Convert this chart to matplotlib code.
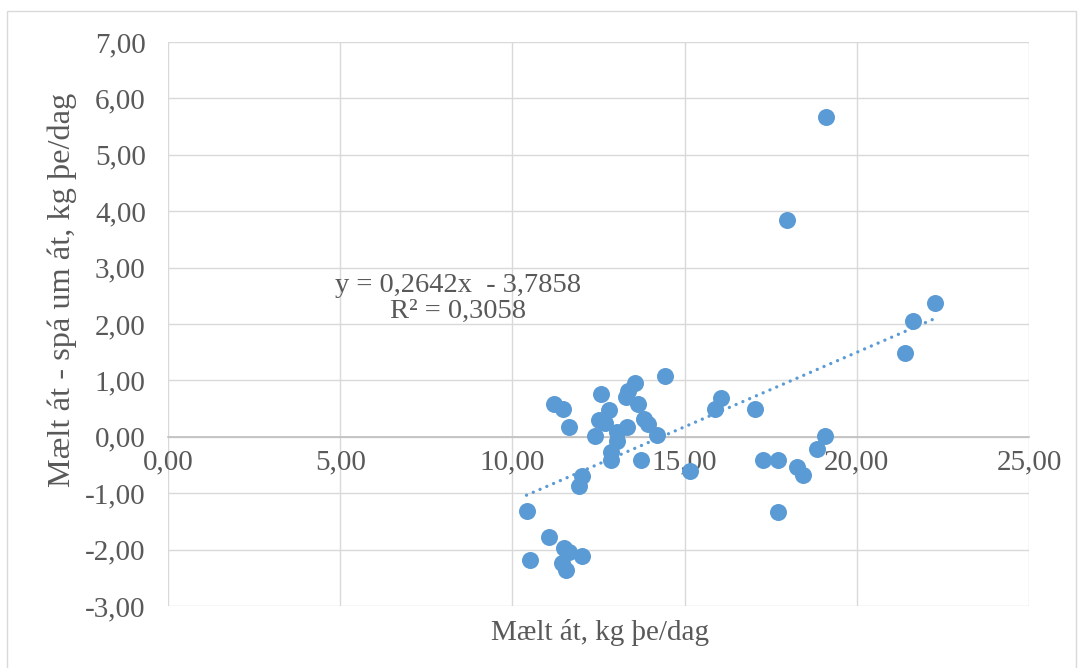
import numpy as np
import matplotlib
matplotlib.use('Agg')
import matplotlib.pyplot as plt
from matplotlib.patches import Rectangle

x_vals = [19.10, 17.97, 22.27, 21.64, 21.40, 14.43, 16.05, 15.87, 17.03, 13.55,
          13.37, 13.31, 12.56, 11.22, 11.47, 11.63, 12.51, 12.68, 12.80, 12.39,
          13.03, 13.03, 13.32, 13.66, 13.83, 13.95, 14.19, 12.85, 12.85, 13.72,
          12.03, 11.92, 15.17, 10.41, 11.05, 10.52, 11.45, 11.57, 11.51, 11.63,
          12.03, 19.07, 18.84, 17.28, 17.72, 18.26, 18.43, 17.72]
y_vals = [5.67, 3.85, 2.38, 2.06, 1.49, 1.07, 0.68, 0.50, 0.50, 0.96,
          0.82, 0.71, 0.75, 0.59, 0.50, 0.18, 0.29, 0.24, 0.47, 0.01,
          0.08, -0.07, 0.18, 0.58, 0.32, 0.23, 0.04, -0.27, -0.41, -0.42,
          -0.70, -0.88, -0.60, -1.31, -1.77, -2.19, -2.23, -2.37, -1.97, -2.04,
          -2.12, 0.01, -0.21, -0.42, -0.42, -0.53, -0.67, -1.34]

# trendline as shown on the chart
slope = 0.2642
intercept = -3.7858
r2 = 0.3058

x_ticks = [0, 5, 10, 15, 20, 25]
y_ticks = [-3, -2, -1, 0, 1, 2, 3, 4, 5, 6, 7]

blue = '#5B9BD5'
text_grey = '#595959'
plt.rcParams['font.family'] = ['Liberation Serif', 'DejaVu Serif']

fig = plt.figure(figsize=(10.8, 6.68), dpi=100)
W, H = 1080, 668
ax = fig.add_axes([168 / W, 1 - 606 / H, (1029 - 168) / W, (606 - 42) / H])

# chart area border
fig.patches.append(Rectangle((7 / W, -0.05), (1076 - 7) / W, 1.05 - 11 / H,
                             transform=fig.transFigure, fill=False,
                             edgecolor='#D9D9D9', linewidth=1.0))

ax.scatter(x_vals, y_vals, s=150, color=blue, linewidths=0, zorder=3)

xl = np.array([min(x_vals), max(x_vals)])
ax.plot(xl, slope * xl + intercept, color=blue, linewidth=2.4,
        linestyle=(0, (0.01, 2.2)), dash_capstyle='round', zorder=2)

ax.set_xlim(0, 25)
ax.set_ylim(-3, 7)
ax.set_xticks(x_ticks)
ax.set_yticks(y_ticks)
ax.set_xticklabels([f'{t:.2f}'.replace('.', ',') for t in x_ticks])
ax.set_yticklabels([f'{t:.2f}'.replace('.', ',') for t in y_ticks])

ax.grid(True, color='#D9D9D9', linewidth=1.0)
ax.set_axisbelow(True)
for s in ['top', 'right', 'left']:
    ax.spines[s].set_visible(False)
ax.spines['bottom'].set_position(('data', 0))
ax.spines['bottom'].set_color('#BFBFBF')
ax.spines['bottom'].set_linewidth(1.2)
ax.spines['bottom'].set_zorder(1)

ax.tick_params(axis='x', length=0, pad=9, labelsize=21, labelcolor=text_grey)
ax.tick_params(axis='y', length=0, pad=16, labelsize=21, labelcolor=text_grey)

ax.text(8.43, 2.45, f'y = {slope:.4f}x  - {-intercept:.4f}\nR² = {r2:.4f}'.replace('.', ','),
        ha='center', va='center', multialignment='center', fontsize=20.5,
        color=text_grey, linespacing=1.05)

fig.text(600 / W, 1 - 632 / H, 'Mælt át, kg þe/dag', ha='center', va='center',
         fontsize=21, color=text_grey)
fig.text(62 / W, 1 - 290 / H, 'Mælt át - spá um át, kg þe/dag', ha='center',
         va='center', rotation=90, fontsize=23.3, color=text_grey)

fig.savefig('out.png', dpi=100)
